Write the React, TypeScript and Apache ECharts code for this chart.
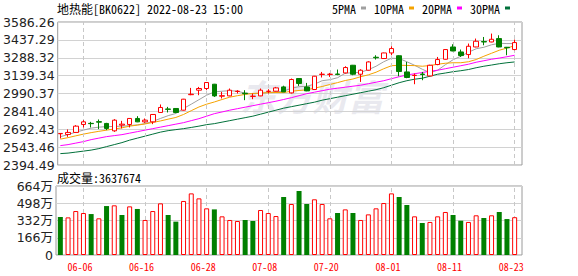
import React, { useEffect, useRef } from 'react';
import * as echarts from 'echarts';

const dates = [
  '05-31', '06-01', '06-02', '06-06', '06-07', '06-08', '06-09', '06-10', '06-13', '06-14',
  '06-15', '06-16', '06-17', '06-20', '06-21', '06-22', '06-23', '06-24', '06-27', '06-28',
  '06-29', '06-30', '07-01', '07-04', '07-05', '07-06', '07-07', '07-08', '07-11', '07-12',
  '07-13', '07-14', '07-15', '07-18', '07-19', '07-20', '07-21', '07-22', '07-25', '07-26',
  '07-27', '07-28', '07-29', '08-01', '08-02', '08-03', '08-04', '08-05', '08-08', '08-09',
  '08-10', '08-11', '08-12', '08-15', '08-16', '08-17', '08-18', '08-19', '08-22', '08-23',
];
const tickDates = ['06-06', '06-16', '06-28', '07-08', '07-20', '08-01', '08-11', '08-23'];

const opens = [
  2655.0, 2649.2, 2665.9, 2732.4, 2741.6, 2755.7, 2740.8, 2679.2, 2726.6, 2732.4,
  2782.4, 2754.1, 2754.1, 2832.3, 2861.4, 2865.6, 2851.4, 2980.4, 3017.9, 3032.0,
  3067.8, 2967.9, 2970.4, 3007.1, 2992.9, 2966.3, 2970.4, 3007.9, 3009.6, 3045.3,
  2995.4, 3115.2, 3045.3, 3023.7, 3149.4, 3149.4, 3152.7, 3161.8, 3225.9, 3151.0,
  3184.3, 3292.5, 3281.7, 3328.3, 3305.0, 3170.2, 3140.2, 3152.7, 3136.9, 3231.8,
  3275.9, 3378.2, 3336.6, 3315.0, 3378.2, 3423.2, 3419.8, 3448.1, 3375.7, 3356.6,
];
const closes = [
  2657.5, 2665.9, 2718.3, 2754.1, 2739.1, 2751.6, 2699.1, 2768.2, 2734.9, 2782.4,
  2754.1, 2768.2, 2815.6, 2873.9, 2858.1, 2832.3, 2943.0, 2984.6, 3032.0, 3082.0,
  2970.4, 2972.1, 3017.9, 3009.6, 2988.7, 2967.9, 3017.9, 3009.6, 3037.0, 3003.7,
  3106.9, 3073.6, 3012.0, 3134.4, 3151.0, 3151.0, 3149.4, 3206.8, 3151.0, 3184.3,
  3253.4, 3288.3, 3328.3, 3364.9, 3173.5, 3123.6, 3142.7, 3148.5, 3225.9, 3273.4,
  3356.6, 3344.9, 3306.6, 3384.0, 3425.7, 3419.8, 3442.3, 3378.2, 3371.6, 3414.8,
];
const lows = [
  2615.9, 2629.2, 2664.2, 2707.5, 2707.5, 2693.3, 2685.0, 2670.8, 2699.1, 2707.5,
  2751.6, 2745.7, 2734.9, 2829.8, 2832.3, 2826.5, 2848.9, 2976.3, 2976.3, 3017.9,
  2962.1, 2948.8, 2967.9, 2990.4, 2934.7, 2943.0, 2967.9, 2990.4, 3007.1, 3001.2,
  2990.4, 3053.7, 3009.6, 3021.2, 3123.6, 3128.6, 3142.7, 3156.9, 3142.7, 3086.9,
  3181.8, 3273.4, 3279.2, 3309.1, 3134.4, 3117.7, 3067.8, 3101.1, 3134.4, 3225.9,
  3273.4, 3342.4, 3295.0, 3284.2, 3375.7, 3392.4, 3417.4, 3375.7, 3309.1, 3350.8,
];
const highs = [
  2660.0, 2690.8, 2726.6, 2768.2, 2754.1, 2774.0, 2745.7, 2776.5, 2762.4, 2784.9,
  2801.5, 2782.4, 2818.1, 2898.9, 2878.9, 2868.1, 2945.5, 3037.0, 3045.3, 3084.5,
  3070.3, 3003.7, 3032.0, 3017.9, 3017.9, 2990.4, 3032.0, 3026.2, 3045.3, 3055.3,
  3115.2, 3117.7, 3078.6, 3136.9, 3170.2, 3161.8, 3190.1, 3217.6, 3228.4, 3192.6,
  3259.2, 3309.1, 3330.8, 3384.0, 3309.1, 3253.4, 3156.9, 3170.2, 3230.1, 3295.0,
  3359.1, 3400.7, 3356.6, 3406.5, 3448.1, 3461.4, 3489.7, 3475.6, 3378.2, 3439.8,
];

const ma5 = [
  2630.9, 2647.5, 2668.4, 2685.0, 2701.6, 2710.0, 2714.1, 2715.8, 2718.3, 2722.4,
  2729.1, 2739.1, 2757.4, 2782.4, 2805.7, 2824.0, 2865.6, 2901.4, 2938.8, 2976.3,
  3003.7, 3009.6, 3013.7, 3009.6, 2992.9, 2988.7, 2990.4, 2998.7, 3005.4, 3009.6,
  3034.5, 3047.0, 3051.2, 3067.8, 3096.9, 3105.3, 3121.9, 3159.3, 3163.5, 3167.7,
  3188.5, 3217.6, 3255.1, 3284.2, 3281.7, 3255.1, 3225.9, 3192.6, 3163.5, 3184.3,
  3230.1, 3271.7, 3300.8, 3334.1, 3363.2, 3375.7, 3396.5, 3409.0, 3406.5, 3406.5,
];
const ma10 = [
  2610.1, 2622.6, 2637.6, 2651.7, 2664.2, 2675.0, 2685.0, 2695.0, 2704.1, 2718.3,
  2726.6, 2736.6, 2749.1, 2761.6, 2776.5, 2790.7, 2815.6, 2847.3, 2878.1, 2901.4,
  2919.7, 2940.5, 2959.6, 2972.1, 2982.9, 2990.4, 2994.6, 2997.1, 2998.7, 2997.9,
  3009.6, 3015.4, 3021.2, 3035.4, 3048.7, 3065.3, 3081.1, 3098.6, 3111.1, 3130.2,
  3146.0, 3167.7, 3196.8, 3221.8, 3225.9, 3224.3, 3222.6, 3217.6, 3223.4, 3234.2,
  3242.6, 3246.7, 3246.7, 3255.1, 3273.4, 3300.8, 3325.8, 3350.8, 3369.1, 3388.2,
];
const ma20 = [
  2556.0, 2564.3, 2576.8, 2589.3, 2605.9, 2618.4, 2630.9, 2639.2, 2647.5, 2660.0,
  2672.5, 2685.0, 2697.5, 2710.0, 2722.4, 2734.9, 2747.4, 2764.1, 2780.7, 2801.5,
  2822.3, 2836.5, 2851.4, 2863.9, 2876.4, 2888.9, 2901.4, 2913.8, 2926.3, 2940.5,
  2955.5, 2972.1, 2988.7, 3001.2, 3013.7, 3026.2, 3034.5, 3042.8, 3051.2, 3059.5,
  3072.0, 3084.5, 3096.9, 3113.6, 3130.2, 3144.4, 3155.2, 3165.2, 3176.0, 3184.3,
  3196.8, 3209.3, 3221.8, 3234.2, 3250.9, 3263.4, 3275.9, 3285.8, 3296.7, 3309.1,
];
const ma30 = [
  2489.4, 2493.6, 2501.9, 2510.2, 2518.6, 2531.0, 2547.7, 2564.3, 2581.0, 2601.8,
  2618.4, 2635.1, 2651.7, 2668.4, 2680.8, 2689.2, 2697.5, 2707.5, 2718.3, 2730.8,
  2739.1, 2751.6, 2764.1, 2776.5, 2789.0, 2801.5, 2818.1, 2834.8, 2851.4, 2868.1,
  2880.6, 2893.0, 2905.5, 2918.0, 2934.7, 2947.1, 2959.6, 2972.1, 2984.6, 2997.1,
  3009.6, 3022.0, 3038.7, 3059.5, 3080.3, 3096.9, 3109.4, 3117.7, 3134.4, 3151.0,
  3161.0, 3172.0, 3180.2, 3190.1, 3205.1, 3217.6, 3227.6, 3238.4, 3246.7, 3253.4,
];

const volumes = [
  3657000, 3620000, 4230000, 4040000, 3940000, 3530000, 4710000, 4780000, 3850000, 4680000,
  4430000, 3370000, 4230000, 4970000, 3850000, 3210000, 5200000, 5930000, 5450000, 4490000,
  4390000, 3720000, 3370000, 3270000, 3370000, 3270000, 4330000, 4040000, 3750000, 5580000,
  4910000, 6160000, 4910000, 5360000, 4910000, 3530000, 4040000, 4390000, 4040000, 3370000,
  3910000, 4490000, 5000000, 5930000, 5580000, 4810000, 3720000, 3080000, 3180000, 3720000,
  4140000, 3850000, 3300000, 3180000, 3820000, 3560000, 3820000, 4140000, 3460000, 3637674,
];
// 1 = volume bar drawn red (up), 0 = green (down)
const volumeUp = [
  0, 1, 1, 1, 0, 1, 0, 1, 0, 1,
  0, 1, 1, 1, 0, 0, 1, 1, 1, 1,
  0, 1, 1, 1, 0, 0, 1, 1, 1, 0,
  1, 0, 0, 1, 1, 1, 0, 1, 0, 1,
  1, 1, 1, 1, 0, 0, 1, 0, 1, 1,
  1, 0, 0, 1, 1, 0, 1, 0, 0, 1,
];

const priceTicks = [2394.49, 2543.46, 2692.43, 2841.40, 2990.37, 3139.34, 3288.32, 3437.29, 3586.26];
const volumeTicks = [0, 1660000, 3320000, 4980000, 6640000];

const maNames = ['5PMA', '10PMA', '20PMA', '30PMA'];
const maColors = ['#a0a0a0', '#f5a300', '#ff00ff', '#00703a'];
const maSeries = [ma5, ma10, ma20, ma30];

const titleText = '地热能[BK0622] 2022-08-23 15:00';

const MONO = "'Noto Sans Mono CJK SC', 'Noto Sans CJK SC', monospace";
const AXISFONT = "'DejaVu Sans', 'Noto Sans CJK SC', sans-serif";
const RED = '#ff0000';
const GREEN = '#008000';

export default function App() {
  const ref = useRef<HTMLDivElement>(null);

  useEffect(() => {
    if (!ref.current) return;
    const chart = echarts.init(ref.current, null, { renderer: 'svg' });

    const dashed = {
      silent: true,
      symbol: ['none', 'none'],
      label: { show: false },
      lineStyle: { color: '#c8c8c8', type: [4, 3], width: 1 },
      emphasis: { disabled: true },
      data: tickDates.map((d) => ({ xAxis: d })),
    };

    const frameAxisLabel = {
      fontFamily: AXISFONT,
      fontSize: 12.5,
      color: '#222',
      margin: 3,
    };

    const option: any = {
      animation: false,
      backgroundColor: '#ffffff',
      title: [
        {
          text: titleText,
          left: 57,
          top: 2,
          padding: 0,
          textStyle: { fontFamily: MONO, fontSize: 12, fontWeight: 'normal', color: '#000' },
        },
        {
          text: `成交量:${volumes[volumes.length - 1]}`,
          left: 57,
          top: 171,
          padding: 0,
          textStyle: { fontFamily: MONO, fontSize: 12, fontWeight: 'normal', color: '#000' },
        },
      ],
      legend: {
        data: maNames,
        right: 68,
        top: 2,
        padding: 0,
        align: 'right',
        icon: 'rect',
        itemWidth: 5,
        itemHeight: 3,
        itemGap: 8,
        selectedMode: false,
        textStyle: { fontFamily: MONO, fontSize: 12, color: '#000' },
      },
      graphic: [
        {
          type: 'text',
          left: 240,
          top: 77,
          z: 0,
          silent: true,
          style: {
            text: '东方财富',
            fill: 'rgba(215,215,225,0.55)',
            font: "italic bold 36px 'Noto Sans CJK SC'",
          },
        },
      ],
      grid: [
        { left: 56, top: 22, width: 466, height: 143, show: true, borderColor: '#9a9a9a', borderWidth: 1 },
        { left: 56.5, top: 22, width: 462, height: 143 },
        { left: 56, top: 186, width: 466, height: 69, show: true, borderColor: '#9a9a9a', borderWidth: 1 },
        { left: 56.5, top: 186, width: 462, height: 69 },
      ],
      xAxis: [
        { gridIndex: 0, type: 'value', min: 0, max: 1, show: false },
        { gridIndex: 1, type: 'category', data: dates, show: false, boundaryGap: true },
        { gridIndex: 2, type: 'value', min: 0, max: 1, show: false },
        {
          gridIndex: 3,
          type: 'category',
          data: dates,
          boundaryGap: true,
          axisLine: { show: false },
          axisTick: { show: false },
          splitLine: { show: false },
          axisLabel: {
            interval: (_i: number, v: string) => tickDates.includes(v),
            color: RED,
            fontFamily: MONO,
            fontSize: 10,
            margin: 6,
            padding: [0, 7, 0, 0],
          },
        },
      ],
      yAxis: [
        {
          gridIndex: 0,
          type: 'value',
          min: 0,
          max: priceTicks.length - 1,
          interval: 1,
          axisLine: { show: false },
          axisTick: { show: false },
          splitLine: { lineStyle: { color: '#d2d2d2', width: 1 } },
          axisLabel: { ...frameAxisLabel, formatter: (v: number) => priceTicks[v].toFixed(2) },
        },
        {
          gridIndex: 1,
          type: 'value',
          min: priceTicks[0],
          max: priceTicks[priceTicks.length - 1],
          show: false,
          splitLine: { show: false },
        },
        {
          gridIndex: 2,
          type: 'value',
          min: 0,
          max: volumeTicks.length - 1,
          interval: 1,
          axisLine: { show: false },
          axisTick: { show: false },
          splitLine: { lineStyle: { color: '#d2d2d2', width: 1 } },
          axisLabel: {
            ...frameAxisLabel,
            formatter: (v: number) => (volumeTicks[v] === 0 ? '0' : `${volumeTicks[v] / 10000}万`),
          },
        },
        {
          gridIndex: 3,
          type: 'value',
          min: volumeTicks[0],
          max: volumeTicks[volumeTicks.length - 1],
          show: false,
          splitLine: { show: false },
        },
      ],
      series: [
        ...maSeries.map((arr, k) => ({
          name: maNames[k],
          type: 'line',
          xAxisIndex: 1,
          yAxisIndex: 1,
          data: arr,
          symbol: 'none',
          showSymbol: false,
          smooth: false,
          z: 3,
          lineStyle: { color: maColors[k], width: 1 },
          itemStyle: { color: maColors[k] },
          emphasis: { disabled: true },
          ...(k === 3 ? { markLine: dashed } : {}),
        })),
        {
          name: 'K',
          type: 'candlestick',
          xAxisIndex: 1,
          yAxisIndex: 1,
          barWidth: 5,
          z: 5,
          data: dates.map((_, i) => [opens[i], closes[i], lows[i], highs[i]]),
          itemStyle: {
            color: '#ffffff',
            color0: GREEN,
            borderColor: RED,
            borderColor0: GREEN,
            borderWidth: 1,
          },
        },
        {
          name: '成交量',
          type: 'bar',
          xAxisIndex: 3,
          yAxisIndex: 3,
          barWidth: 5,
          z: 5,
          data: volumes.map((v, i) => ({
            value: v,
            itemStyle: volumeUp[i]
              ? { color: '#ffffff', borderColor: RED, borderWidth: 1 }
              : { color: GREEN, borderColor: GREEN, borderWidth: 0 },
          })),
          markLine: dashed,
        },
      ],
    };

    chart.setOption(option);
    return () => chart.dispose();
  }, []);

  return (
    <div
      ref={ref}
      style={{ position: 'absolute', left: 0, top: 0, width: 578, height: 276, background: '#ffffff' }}
    />
  );
}
